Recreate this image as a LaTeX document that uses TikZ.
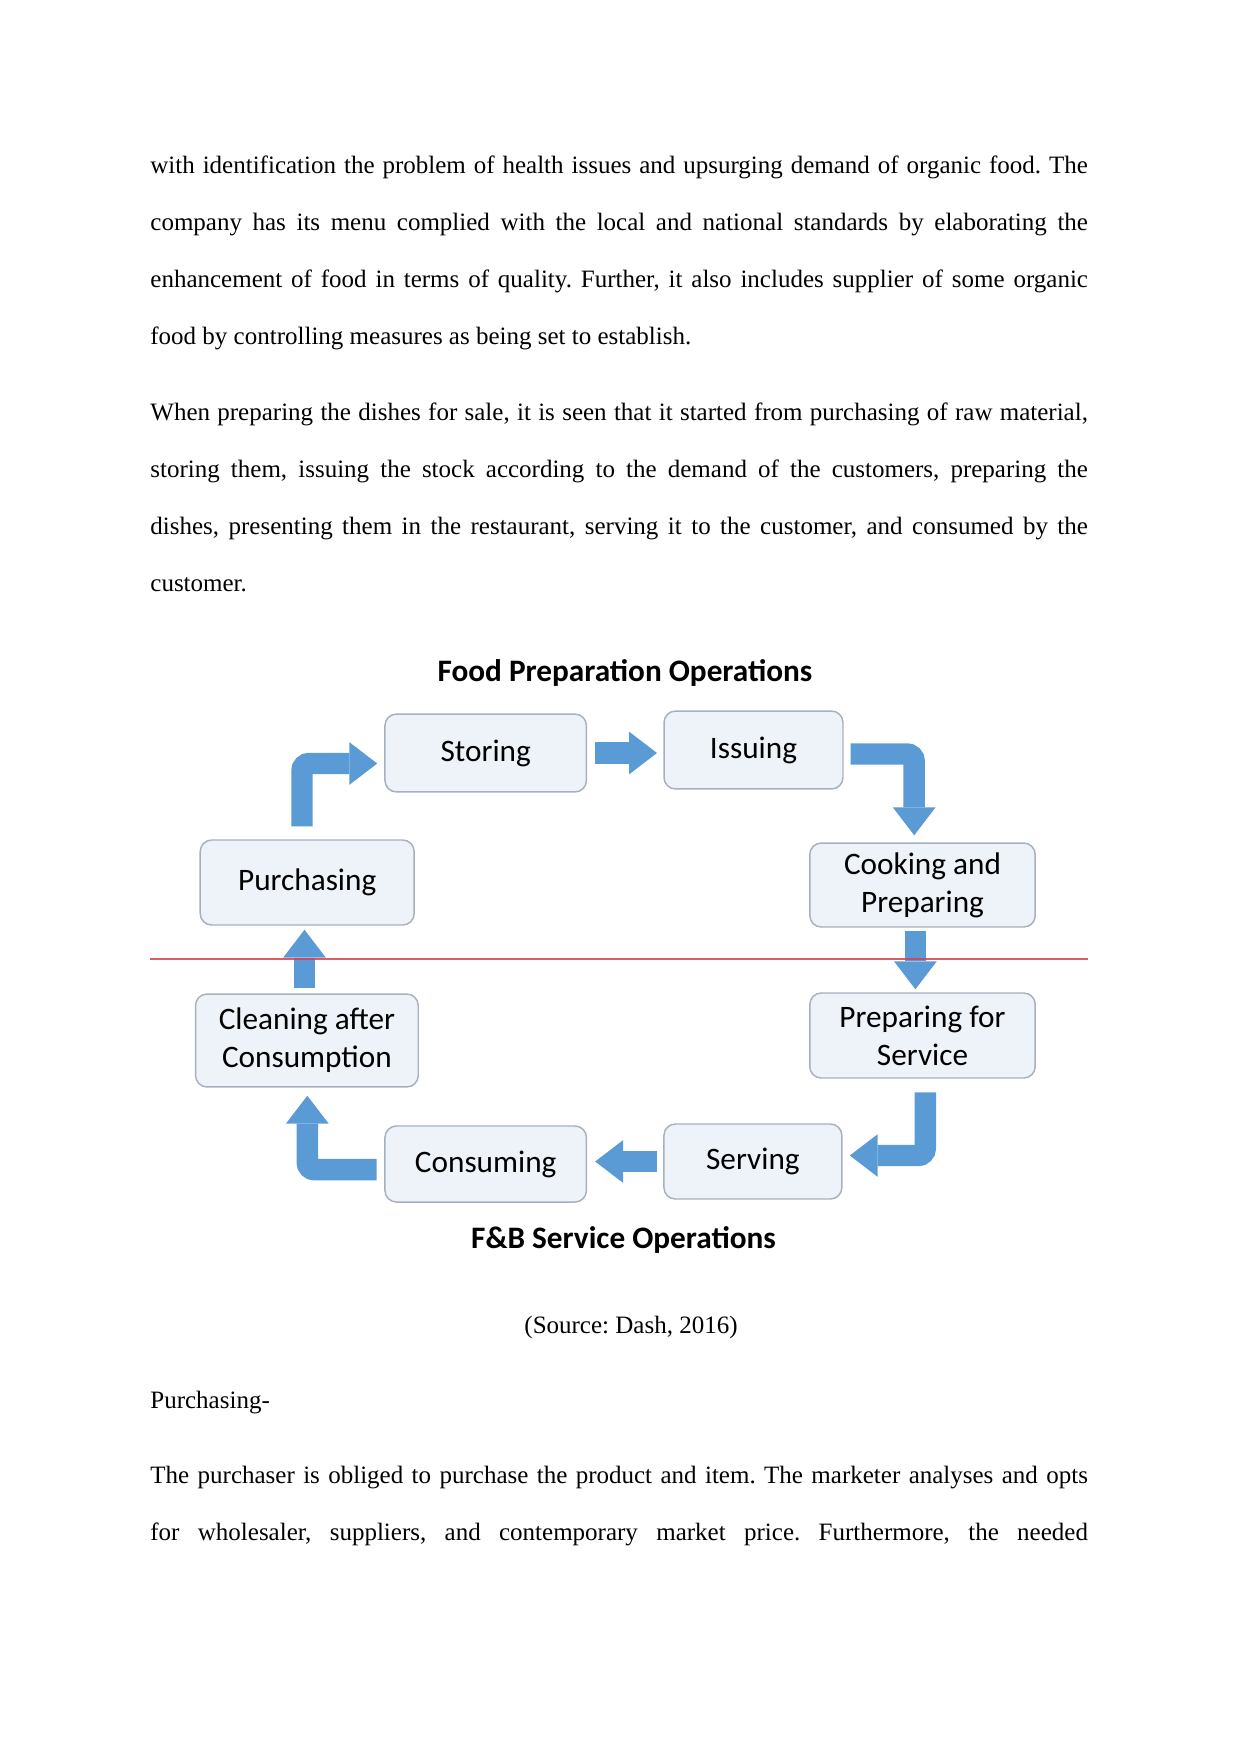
\documentclass[tikz,border=0pt]{standalone}
\usepackage{fontspec}
\setmainfont{Liberation Serif}
\newfontfamily\calibri{Carlito}
\usetikzlibrary{arrows.meta, calc}
\frenchspacing
\definecolor{boxfill}{HTML}{EEF3F9}
\definecolor{boxline}{HTML}{A7B1BE}
\definecolor{arrowblue}{HTML}{5B9BD5}
\definecolor{cutred}{HTML}{D6404E}
\tikzset{
    opbox/.style={rectangle, rounded corners=5.5pt, draw=boxline, fill=boxfill, line width=0.7pt, inner sep=0pt, align=center, font=\calibri\fontsize{15pt}{18.3pt}\selectfont},
    heading/.style={anchor=base, inner sep=0pt, font=\calibri\bfseries\fontsize{15pt}{18pt}\selectfont},
    bodytext/.style={anchor=base west, inner sep=0pt, text width=450pt, align=justify, font=\fontsize{12pt}{27.4pt}\selectfont},
    flowarrow/.style={draw=arrowblue, line width=10.3pt, rounded corners=3.5pt, -{Triangle[width=20.5pt, length=13.4pt, line width=0pt]}},
    cutline/.style={draw=cutred, line width=1.2pt, opacity=0.85},
}

\begin{document}
\begin{tikzpicture}[x=0.48pt, y=-0.48pt]
    \useasboundingbox (0,0) rectangle (1241,1754);

    % text above the figure
    \node[bodytext] (para1) at (150,173) {with identification the problem of health issues and upsurging demand of organic food. The\linebreak company has its menu complied with the local and national standards by elaborating the\linebreak enhancement of food in terms of quality. Further, it also includes supplier of some organic\linebreak food by controlling measures as being set to establish.};
    \node[bodytext] (para2) at (150,420) {When preparing the dishes for sale, it is seen that it started from purchasing of raw material,\linebreak storing them, issuing the stock according to the demand of the customers, preparing the\linebreak dishes, presenting them in the restaurant, serving it to the customer, and consumed by the\linebreak customer.};

    % the cycle
    \node[heading] (fptitle) at (625,681) {Food Preparation Operations};
    \node[opbox, minimum width=96.7pt, minimum height=37.4pt] (storing) at (485.7,753) {Storing};
    \node[opbox, minimum width=85.9pt, minimum height=37.4pt] (issuing) at (753.5,750) {Issuing};
    \node[opbox, minimum width=102.7pt, minimum height=40.8pt] (purch) at (307.2,882.5) {Purchasing};
    \node[opbox, minimum width=108.2pt, minimum height=40.3pt] (cook) at (922.5,885) {Cooking and\\Preparing};
    \node[opbox, minimum width=106.9pt, minimum height=44.6pt] (clean) at (306.9,1040.5) {Cleaning after\\Consumption};
    \node[opbox, minimum width=108.2pt, minimum height=40.8pt] (prepserv) at (922.5,1035.5) {Preparing for\\Service};
    \node[opbox, minimum width=96.7pt, minimum height=36.5pt] (consum) at (485.7,1164) {Consuming};
    \node[opbox, minimum width=85.4pt, minimum height=36pt] (serving) at (752.9,1161.5) {Serving};
    \node[heading] (fbtitle) at (623.5,1248) {F\&B Service Operations};

    \draw[flowarrow] ($(purch.north)+(-5.2,-13)$) |- ($(storing.west)+(-7,10.5)$);
    \draw[flowarrow] ($(storing.east)+(8,0)$) -- ($(issuing.west |- storing.east)+(-6.3,0)$);
    \draw[flowarrow] ($(issuing.east)+(6.8,4)$) -| ($(cook.north)+(-8.3,-7)$);
    \draw[flowarrow] ($(cook.south)+(-7.1,3)$) -- ($(prepserv.north)+(-7.1,-3)$);
    \draw[flowarrow] ($(prepserv.south)+(2.8,13.7)$) |- ($(serving.east)+(7.2,-6)$);
    \draw[flowarrow] ($(serving.west)+(-6.3,0)$) -- ($(consum.east |- serving.west)+(8,0)$);
    \draw[flowarrow] ($(consum.west)+(-7.6,5.7)$) -| ($(clean.south)+(0.4,8)$);
    \draw[flowarrow] ($(clean.north)+(-2.4,-5.7)$) -- ($(purch.south)+(-2.7,4)$);

    % border between the two halves
    \coordinate (cutl) at (150,959);
    \coordinate (cutr) at (1088,959);
    \draw[cutline] (cutl) -- (cutr);

    % text below the figure
    \node[anchor=base, inner sep=0pt, font=\fontsize{12pt}{14pt}\selectfont] (source) at (631,1333) {(Source: Dash, 2016)};
    \node[anchor=base west, inner sep=0pt, font=\fontsize{12pt}{14pt}\selectfont] (purchhead) at (150,1408) {Purchasing-};
    \node[bodytext] (para3) at (150,1483) {The purchaser is obliged to purchase the product and item. The marketer analyses and opts\linebreak \makebox[\linewidth][s]{for wholesaler, suppliers, and contemporary market price. Furthermore, the needed}};
\end{tikzpicture}
\end{document}
